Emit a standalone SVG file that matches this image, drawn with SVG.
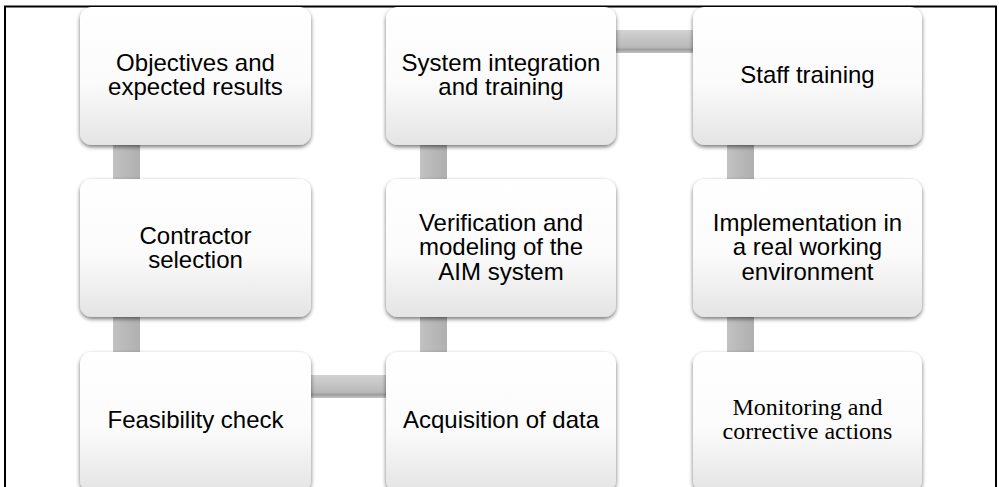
<svg xmlns="http://www.w3.org/2000/svg" width="999" height="487" viewBox="0 0 999 487">
<defs>
  <linearGradient id="boxg" x1="0" y1="0" x2="0" y2="1">
    <stop offset="0" stop-color="#ffffff"/>
    <stop offset="0.55" stop-color="#fbfbfb"/>
    <stop offset="1" stop-color="#e4e4e4"/>
  </linearGradient>
  <linearGradient id="hbar" x1="0" y1="0" x2="0" y2="1">
    <stop offset="0" stop-color="#d2d2d2"/>
    <stop offset="0.75" stop-color="#b9b9b9"/>
    <stop offset="0.85" stop-color="#9e9e9e"/>
    <stop offset="1" stop-color="#c4c4c4"/>
  </linearGradient>
  <linearGradient id="vbar" x1="0" y1="0" x2="1" y2="0">
    <stop offset="0" stop-color="#c2c2c2"/>
    <stop offset="0.5" stop-color="#b8b8b8"/>
    <stop offset="1" stop-color="#b0b0b0"/>
  </linearGradient>
  <filter id="shadow" x="-10%" y="-10%" width="120%" height="125%">
    <feGaussianBlur in="SourceAlpha" stdDeviation="2.2"/>
    <feOffset dx="0" dy="2" result="b"/>
    <feComponentTransfer><feFuncA type="linear" slope="0.55"/></feComponentTransfer>
    <feMerge><feMergeNode/><feMergeNode in="SourceGraphic"/></feMerge>
  </filter>
</defs>
<style>
  .box { fill: url(#boxg); filter: url(#shadow); }
  .t { font-family: "Liberation Sans", Arial, sans-serif; font-size: 24px; fill: #000; text-anchor: middle; }
  .ts { font-family: "Liberation Serif", "Times New Roman", serif; font-size: 24px; fill: #000; text-anchor: middle; }
  .hb { fill: url(#hbar); }
  .vb { fill: url(#vbar); }
</style>
<rect x="0" y="0" width="999" height="487" fill="#ffffff"/>
<path d="M5 490 V6.5 H996 V490" fill="none" stroke="#000" stroke-width="2"/>

<g id="connectors">
  <rect class="vb" x="113" y="140" width="27" height="45"/>
  <rect class="vb" x="113" y="312" width="27" height="45"/>
  <rect class="hb" x="305" y="375" width="88" height="23"/>
  <rect class="vb" x="420" y="312" width="27" height="45"/>
  <rect class="vb" x="420" y="140" width="27" height="45"/>
  <rect class="hb" x="610" y="30" width="90" height="23"/>
  <rect class="vb" x="727" y="140" width="27" height="45"/>
  <rect class="vb" x="727" y="312" width="27" height="45"/>
</g>

<g id="n1">
  <rect class="box" x="80" y="7" width="231" height="138" rx="12"/>
  <text class="t" x="195.5" y="70.5">Objectives and</text>
  <text class="t" x="195.5" y="95">expected results</text>
</g>
<g id="n2">
  <rect class="box" x="80" y="179" width="231" height="138" rx="12"/>
  <text class="t" x="195.5" y="243.5">Contractor</text>
  <text class="t" x="195.5" y="268">selection</text>
</g>
<g id="n3">
  <rect class="box" x="80" y="352" width="231" height="140" rx="12"/>
  <text class="t" x="195.5" y="428">Feasibility check</text>
</g>
<g id="n4">
  <rect class="box" x="386" y="352" width="230" height="140" rx="12"/>
  <text class="t" x="501" y="428">Acquisition of data</text>
</g>
<g id="n5">
  <rect class="box" x="386" y="179" width="230" height="138" rx="12"/>
  <text class="t" x="501" y="230.5">Verification and</text>
  <text class="t" x="501" y="255">modeling of the</text>
  <text class="t" x="501" y="279.5">AIM system</text>
</g>
<g id="n6">
  <rect class="box" x="386" y="7" width="230" height="138" rx="12"/>
  <text class="t" x="501" y="70.5">System integration</text>
  <text class="t" x="501" y="95">and training</text>
</g>
<g id="n7">
  <rect class="box" x="693" y="7" width="229" height="138" rx="12"/>
  <text class="t" x="807.5" y="83">Staff training</text>
</g>
<g id="n8">
  <rect class="box" x="693" y="179" width="229" height="138" rx="12"/>
  <text class="t" x="807.5" y="230.5">Implementation in</text>
  <text class="t" x="807.5" y="255">a real working</text>
  <text class="t" x="807.5" y="279.5">environment</text>
</g>
<g id="n9">
  <rect class="box" x="693" y="352" width="229" height="140" rx="12"/>
  <text class="ts" x="807.5" y="415">Monitoring and</text>
  <text class="ts" x="807.5" y="439">corrective actions</text>
</g>
</svg>
